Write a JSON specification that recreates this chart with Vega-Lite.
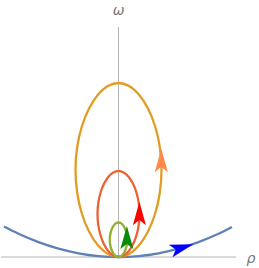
{
  "$schema": "https://vega.github.io/schema/vega-lite/v6.json",
  "width": 235,
  "height": 230,
  "autosize": "none",
  "padding": {"left": 1, "top": 27, "right": 23, "bottom": 11},
  "background": "white",
  "config": {"view": {"stroke": null}},
  "datasets": {
    "curves": [
      {"curve": "blue", "i": 0, "rho": -114.5, "omega": 30.4},
      {"curve": "blue", "i": 1, "rho": -100, "omega": 23.2},
      {"curve": "blue", "i": 2, "rho": -80, "omega": 14.85},
      {"curve": "blue", "i": 3, "rho": -60, "omega": 8.35},
      {"curve": "blue", "i": 4, "rho": -40, "omega": 3.71},
      {"curve": "blue", "i": 5, "rho": -20, "omega": 0.93},
      {"curve": "blue", "i": 6, "rho": 0, "omega": 0},
      {"curve": "blue", "i": 7, "rho": 20, "omega": 0.93},
      {"curve": "blue", "i": 8, "rho": 40, "omega": 3.71},
      {"curve": "blue", "i": 9, "rho": 60, "omega": 8.35},
      {"curve": "blue", "i": 10, "rho": 80, "omega": 14.85},
      {"curve": "blue", "i": 11, "rho": 100, "omega": 23.2},
      {"curve": "blue", "i": 12, "rho": 113.5, "omega": 29.9},

      {"curve": "orange", "i": 0, "rho": 0, "omega": 0},
      {"curve": "orange", "i": 1, "rho": 10.51, "omega": 2.97},
      {"curve": "orange", "i": 2, "rho": 20.53, "omega": 11.66},
      {"curve": "orange", "i": 3, "rho": 29.49, "omega": 25.48},
      {"curve": "orange", "i": 4, "rho": 36.68, "omega": 43.5},
      {"curve": "orange", "i": 5, "rho": 41.37, "omega": 64.48},
      {"curve": "orange", "i": 6, "rho": 43, "omega": 87},
      {"curve": "orange", "i": 7, "rho": 41.37, "omega": 109.52},
      {"curve": "orange", "i": 8, "rho": 36.68, "omega": 130.5},
      {"curve": "orange", "i": 9, "rho": 29.49, "omega": 148.52},
      {"curve": "orange", "i": 10, "rho": 20.53, "omega": 162.34},
      {"curve": "orange", "i": 11, "rho": 10.51, "omega": 171.03},
      {"curve": "orange", "i": 12, "rho": 0, "omega": 174},
      {"curve": "orange", "i": 13, "rho": -10.51, "omega": 171.03},
      {"curve": "orange", "i": 14, "rho": -20.53, "omega": 162.34},
      {"curve": "orange", "i": 15, "rho": -29.49, "omega": 148.52},
      {"curve": "orange", "i": 16, "rho": -36.68, "omega": 130.5},
      {"curve": "orange", "i": 17, "rho": -41.37, "omega": 109.52},
      {"curve": "orange", "i": 18, "rho": -43, "omega": 87},
      {"curve": "orange", "i": 19, "rho": -41.37, "omega": 64.48},
      {"curve": "orange", "i": 20, "rho": -36.68, "omega": 43.5},
      {"curve": "orange", "i": 21, "rho": -29.49, "omega": 25.48},
      {"curve": "orange", "i": 22, "rho": -20.53, "omega": 11.66},
      {"curve": "orange", "i": 23, "rho": -10.51, "omega": 2.97},
      {"curve": "orange", "i": 24, "rho": 0, "omega": 0},

      {"curve": "red", "i": 0, "rho": 0, "omega": 0},
      {"curve": "red", "i": 1, "rho": 5.13, "omega": 1.47},
      {"curve": "red", "i": 2, "rho": 10.03, "omega": 5.76},
      {"curve": "red", "i": 3, "rho": 14.4, "omega": 12.59},
      {"curve": "red", "i": 4, "rho": 17.91, "omega": 21.5},
      {"curve": "red", "i": 5, "rho": 20.2, "omega": 31.87},
      {"curve": "red", "i": 6, "rho": 21, "omega": 43},
      {"curve": "red", "i": 7, "rho": 20.2, "omega": 54.13},
      {"curve": "red", "i": 8, "rho": 17.91, "omega": 64.5},
      {"curve": "red", "i": 9, "rho": 14.4, "omega": 73.41},
      {"curve": "red", "i": 10, "rho": 10.03, "omega": 80.24},
      {"curve": "red", "i": 11, "rho": 5.13, "omega": 84.53},
      {"curve": "red", "i": 12, "rho": 0, "omega": 86},
      {"curve": "red", "i": 13, "rho": -5.13, "omega": 84.53},
      {"curve": "red", "i": 14, "rho": -10.03, "omega": 80.24},
      {"curve": "red", "i": 15, "rho": -14.4, "omega": 73.41},
      {"curve": "red", "i": 16, "rho": -17.91, "omega": 64.5},
      {"curve": "red", "i": 17, "rho": -20.2, "omega": 54.13},
      {"curve": "red", "i": 18, "rho": -21, "omega": 43},
      {"curve": "red", "i": 19, "rho": -20.2, "omega": 31.87},
      {"curve": "red", "i": 20, "rho": -17.91, "omega": 21.5},
      {"curve": "red", "i": 21, "rho": -14.4, "omega": 12.59},
      {"curve": "red", "i": 22, "rho": -10.03, "omega": 5.76},
      {"curve": "red", "i": 23, "rho": -5.13, "omega": 1.47},
      {"curve": "red", "i": 24, "rho": 0, "omega": 0},

      {"curve": "green", "i": 0, "rho": 0, "omega": 0},
      {"curve": "green", "i": 1, "rho": 2.13, "omega": 0.59},
      {"curve": "green", "i": 2, "rho": 4.15, "omega": 2.31},
      {"curve": "green", "i": 3, "rho": 5.97, "omega": 5.05},
      {"curve": "green", "i": 4, "rho": 7.42, "omega": 8.63},
      {"curve": "green", "i": 5, "rho": 8.37, "omega": 12.79},
      {"curve": "green", "i": 6, "rho": 8.7, "omega": 17.25},
      {"curve": "green", "i": 7, "rho": 8.37, "omega": 21.71},
      {"curve": "green", "i": 8, "rho": 7.42, "omega": 25.88},
      {"curve": "green", "i": 9, "rho": 5.97, "omega": 29.45},
      {"curve": "green", "i": 10, "rho": 4.15, "omega": 32.19},
      {"curve": "green", "i": 11, "rho": 2.13, "omega": 33.91},
      {"curve": "green", "i": 12, "rho": 0, "omega": 34.5},
      {"curve": "green", "i": 13, "rho": -2.13, "omega": 33.91},
      {"curve": "green", "i": 14, "rho": -4.15, "omega": 32.19},
      {"curve": "green", "i": 15, "rho": -5.97, "omega": 29.45},
      {"curve": "green", "i": 16, "rho": -7.42, "omega": 25.88},
      {"curve": "green", "i": 17, "rho": -8.37, "omega": 21.71},
      {"curve": "green", "i": 18, "rho": -8.7, "omega": 17.25},
      {"curve": "green", "i": 19, "rho": -8.37, "omega": 12.79},
      {"curve": "green", "i": 20, "rho": -7.42, "omega": 8.63},
      {"curve": "green", "i": 21, "rho": -5.97, "omega": 5.05},
      {"curve": "green", "i": 22, "rho": -4.15, "omega": 2.31},
      {"curve": "green", "i": 23, "rho": -2.13, "omega": 0.59},
      {"curve": "green", "i": 24, "rho": 0, "omega": 0}
    ],
    "arrows": [
      {"curve": "blue", "rho": 63.5, "omega": 9.35, "heading": 73.6},
      {"curve": "orange", "rho": 42.8, "omega": 96.6, "heading": 0},
      {"curve": "red", "rho": 20.9, "omega": 43.5, "heading": 0},
      {"curve": "green", "rho": 8.4, "omega": 19.5, "heading": 0}
    ],
    "axes": [
      {"axis": "rho", "x1": -117.5, "x2": 117.5, "y1": 0, "y2": 0},
      {"axis": "omega", "x1": 0, "x2": 0, "y1": 0, "y2": 230}
    ],
    "labels": [
      {"label": "ρ", "rho": 132.5, "omega": -2},
      {"label": "ω", "rho": 0, "omega": 246.5}
    ]
  },
  "layer": [
    {
      "data": {"name": "axes"},
      "mark": {"type": "rule", "color": "#b3b3b3", "strokeWidth": 1},
      "encoding": {
        "x": {"field": "x1", "type": "quantitative", "axis": null, "scale": {"domain": [-117.5, 117.5], "nice": false, "zero": false}},
        "x2": {"field": "x2"},
        "y": {"field": "y1", "type": "quantitative", "axis": null, "scale": {"domain": [0, 230], "nice": false, "zero": false}},
        "y2": {"field": "y2"}
      }
    },
    {
      "data": {"name": "curves"},
      "mark": {"type": "line", "strokeWidth": 2.3, "interpolate": "catmull-rom"},
      "encoding": {
        "x": {"field": "rho", "type": "quantitative", "axis": null},
        "y": {"field": "omega", "type": "quantitative", "axis": null},
        "color": {"field": "curve", "type": "nominal", "legend": null,
          "scale": {"domain": ["blue", "orange", "red", "green"], "range": ["#5E81B5", "#E19C24", "#EB6235", "#8FB032"]}},
        "order": {"field": "i", "type": "quantitative"}
      }
    },
    {
      "data": {"name": "arrows"},
      "mark": {"type": "point", "filled": true, "opacity": 1, "shape": "M0,-1L0.56,1L0,0.55L-0.56,1Z", "strokeWidth": 0},
      "encoding": {
        "x": {"field": "rho", "type": "quantitative", "axis": null},
        "y": {"field": "omega", "type": "quantitative", "axis": null},
        "angle": {"field": "heading", "type": "quantitative", "scale": null},
        "fill": {"field": "curve", "type": "nominal", "legend": null,
          "scale": {"domain": ["blue", "orange", "red", "green"], "range": ["#0000FF", "#FF8A4A", "#FF0000", "#0A8A0A"]}},
        "size": {"field": "curve", "type": "nominal", "legend": null,
          "scale": {"domain": ["blue", "orange", "red", "green"], "range": [560, 540, 540, 430]}}
      }
    },
    {
      "data": {"name": "labels"},
      "mark": {"type": "text", "font": "DejaVu Sans", "fontStyle": "italic", "fontSize": 14, "color": "#777777", "align": "center", "baseline": "middle"},
      "encoding": {
        "x": {"field": "rho", "type": "quantitative", "axis": null},
        "y": {"field": "omega", "type": "quantitative", "axis": null},
        "text": {"field": "label"}
      }
    }
  ]
}
